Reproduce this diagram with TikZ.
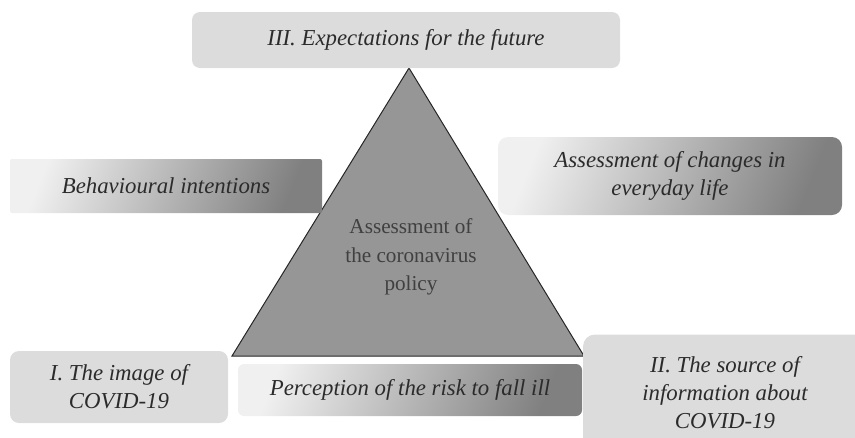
\documentclass[tikz,border=0pt]{standalone}
\usepackage{fontspec}
\setmainfont{Liberation Serif}
\usepackage{xcolor}
\usepackage{tikz}

\definecolor{boxgray}{HTML}{DCDCDC}
\definecolor{trigray}{HTML}{969696}
\definecolor{txtgray}{HTML}{2B2B2B}

\begin{document}
\begin{tikzpicture}[x=1pt,y=-1pt,
    lbl/.style={text=txtgray,align=center,inner sep=0pt,
        font=\fontsize{22.8}{28}\selectfont\itshape},
    flatbox/.style={lbl,fill=boxgray},
    fadebox/.style={lbl,left color=gray!12,right color=gray!100,shading angle=68}]
    \useasboundingbox (0,0) rectangle (855,437);
    \clip (0,0) rectangle (855,437);

    % the triangle in the middle
    \coordinate (top) at (409,68);
    \coordinate (bl) at (232,356);
    \coordinate (br) at (584,356);
    \draw[fill=trigray,draw=black!85,line width=1pt,line join=miter] (top) -- (br) -- (bl) -- cycle;
    \node[text=txtgray!90,align=center,font=\fontsize{21.2}{28.5}\selectfont] (policy) at (411,257)
        {Assessment of\\the coronavirus\\policy};

    % the three corners
    \node[flatbox,rounded corners=8pt,minimum width=428pt,minimum height=56pt] (future) at (406,40)
        {III. Expectations for the future};
    \node[flatbox,rounded corners=9pt,minimum width=218pt,minimum height=72pt] (image) at (119,387)
        {I. The image of\\COVID-19};
    \node[flatbox,rounded corners=12pt,minimum width=284pt,minimum height=117pt] (source) at (725,393)
        {II. The source of\\information about\\COVID-19};

    % the three sides
    \node[fadebox,rounded corners=2pt,minimum width=312pt,minimum height=54pt] (intent) at (166,186)
        {Behavioural intentions};
    \node[fadebox,rounded corners=10pt,minimum width=344pt,minimum height=78pt] (changes) at (670,176)
        {Assessment of changes in\\everyday life};
    \node[fadebox,rounded corners=6pt,minimum width=344pt,minimum height=52pt] (risk) at (410,390)
        {Perception of the risk to fall ill};
\end{tikzpicture}
\end{document}
